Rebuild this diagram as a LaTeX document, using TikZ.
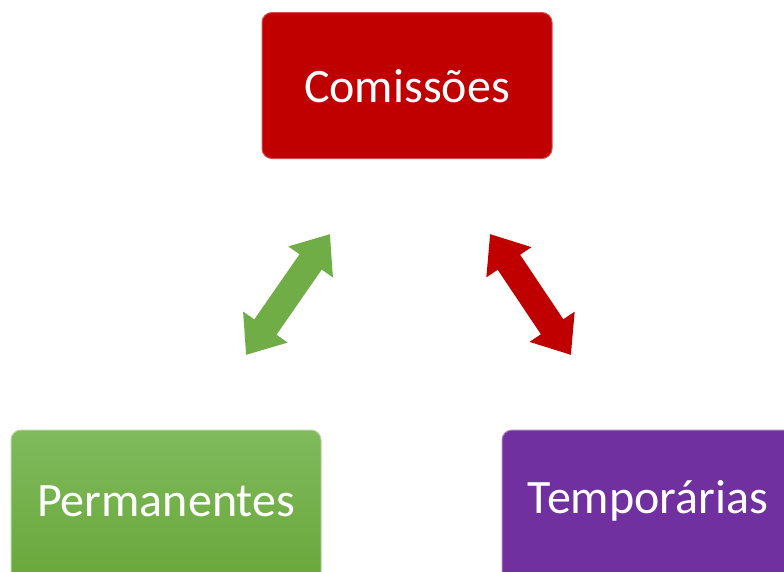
\documentclass[tikz,border=0pt]{standalone}
\usepackage{fontspec}
\setmainfont{Carlito}
\usepackage{tikz}
\usetikzlibrary{arrows.meta}

\definecolor{comred}{HTML}{C00000}
\definecolor{permgreen}{HTML}{70AD47}
\definecolor{permlight}{HTML}{7FBA5C}
\definecolor{permdark}{HTML}{66A536}
\definecolor{tempurple}{HTML}{7030A0}

\tikzset{
  caixa/.style={rounded corners=10pt, minimum width=#1, inner sep=0pt},
  rotulo/.style={text=white, font=\fontsize{48}{57}\selectfont},
  seta/.style={line width=27pt, draw=#1,
    {Triangle[width=52pt,length=34pt]}-{Triangle[width=52pt,length=34pt]}}
}

\begin{document}
\begin{tikzpicture}[x=1pt, y=-1pt]
  \useasboundingbox (0,0) rectangle (784,571);

  % Caixa superior
  \node[caixa=290pt, minimum height=146pt, fill=comred, draw=comred!70!white, line width=1pt]
    (comissoes) at (407,85.5) {};
  \node[rotulo] (txtcom) at (407,86) {Comissões};

  % Caixas inferiores
  \node[caixa=310pt, minimum height=170pt, top color=permlight, bottom color=permdark,
    draw=permlight!60!white, line width=1pt] (perm) at (166,515) {};
  \node[rotulo] (txtperm) at (166,501) {Permanentes};

  \node[caixa=300pt, minimum height=170pt, fill=tempurple, draw=tempurple!60!white, line width=1pt]
    (temp) at (652,515) {};
  \node[rotulo] (txttemp) at (648,501) {Temporárias};

  % Setas duplas
  \coordinate (g1) at (246,355);
  \coordinate (g2) at (330,234);
  \coordinate (r1) at (490,234);
  \coordinate (r2) at (571,355);
  \draw[seta=permgreen] (g1) -- (g2);
  \draw[seta=comred] (r1) -- (r2);

\end{tikzpicture}
\end{document}
